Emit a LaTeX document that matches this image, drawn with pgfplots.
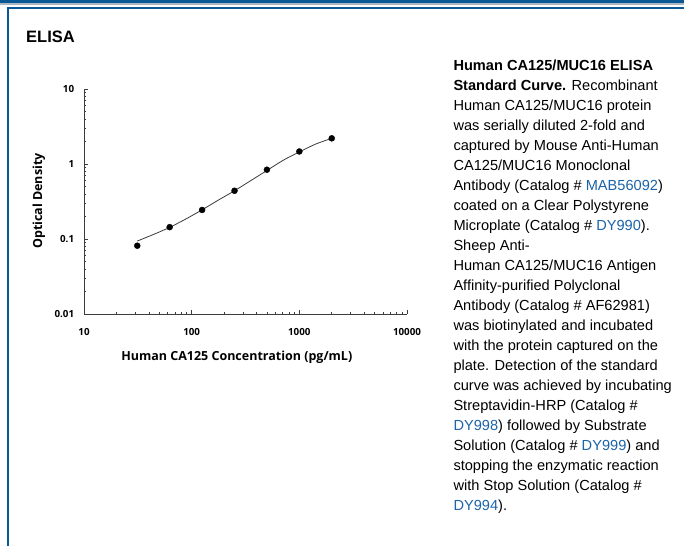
\documentclass[border=0pt]{standalone}
\usepackage{pgfplots}
\pgfplotsset{compat=1.18}
\usepackage{fontspec}
\setmainfont{Liberation Sans}
\newfontfamily\opensans{Open Sans}
\definecolor{bandblue}{RGB}{8,88,150}
\definecolor{bandgray}{RGB}{170,182,194}
\definecolor{linkblue}{RGB}{28,100,170}
\definecolor{axisgray}{RGB}{60,60,60}
\begin{document}
\begin{tikzpicture}[x=1pt,y=1pt]
\useasboundingbox (0,0) rectangle (684,-546);
\fill[white] (0,0) rectangle (684,-546);
% top band and frame
\fill[bandblue] (0,0) rectangle (684,-3);
\fill[bandgray] (0,-3) rectangle (684,-5);
\fill[bandblue] (6.7,-6.7) rectangle (684,-8.7);
\fill[bandblue] (6.7,-6.7) rectangle (8.7,-546);
% ELISA heading
\node[anchor=base west,inner sep=0pt,font=\fontsize{16.5}{19}\selectfont\bfseries] at (26,-42.7) {ELISA};
\begin{axis}[
  at={(84pt,-314pt)}, anchor=south west,
  scale only axis, width=323pt, height=225pt,
  xmode=log, ymode=log,
  xmin=10, xmax=10000, ymin=0.01, ymax=10,
  axis lines=left, axis line style={axisgray, line width=0.9pt, -},
  xtick={10,100,1000,10000}, xticklabels={10,100,1000,10000},
  ytick={0.01,0.1,1,10}, yticklabels={0.01,0.1,1,10},
  minor x tick num=8, minor y tick num=8,
  tick align=inside,
  major tick length=4pt, minor tick length=2.5pt,
  tick style={axisgray, line width=0.6pt},
  /pgf/number format/assume math mode=true,
  ticklabel style={font=\opensans\bfseries\fontsize{9.8}{12}\selectfont, inner sep=0pt},
  yticklabel style={anchor=east, xshift=-9.7pt},
  xticklabel style={anchor=north, yshift=-14pt},
  xlabel={Human CA125 Concentration (pg/mL)},
  ylabel={Optical Density},
  label style={font=\opensans\bfseries\fontsize{12.5}{14}\selectfont},
  xlabel style={at={(axis description cs:0.473,0)}, anchor=base, yshift=-46pt, inner sep=0pt},
  ylabel style={at={(axis description cs:0,0.502)}, anchor=base, yshift=42pt, inner sep=0pt},
  clip=false,
]
\addplot[smooth, axisgray, line width=0.8pt] coordinates {
  (31.25,0.094) (44.2,0.115) (62.5,0.143) (88.4,0.185) (125,0.245)
  (176.8,0.33) (250,0.44) (353.6,0.6) (500,0.82) (707.1,1.12)
  (1000,1.45) (1414,1.84) (2000,2.2)
};
\addplot[only marks, mark=*, mark size=3pt, black] coordinates {
  (31.25,0.0814) (62.5,0.144) (125,0.244) (250,0.44) (500,0.84) (1000,1.47) (2000,2.2)
};
\end{axis}
% description text
\begin{scope}[every node/.style={anchor=base west, inner sep=0pt, font=\fontsize{14.6}{20}\selectfont}]
\node at (453.3,-70.7) {\bfseries Human CA125/MUC16 ELISA};
\node at (453.3,-90.7) {{\bfseries Standard Curve.} Recombinant};
\node at (453.3,-110.7) {Human CA125/MUC16 protein};
\node at (453.3,-130.7) {was serially diluted 2-fold and};
\node at (453.3,-150.7) {captured by Mouse Anti-Human};
\node at (453.3,-170.7) {CA125/MUC16 Monoclonal};
\node at (453.3,-190.7) {Antibody (Catalog \# {\color{linkblue}MAB56092})};
\node at (453.3,-210.7) {coated on a Clear Polystyrene};
\node at (453.3,-230.7) {Microplate (Catalog \# {\color{linkblue}DY990}).};
\node at (453.3,-250.7) {Sheep Anti-};
\node at (453.3,-270.7) {Human CA125/MUC16 Antigen};
\node at (453.3,-290.7) {Affinity-purified Polyclonal};
\node at (453.3,-310.7) {Antibody (Catalog \# AF62981)};
\node at (453.3,-330.7) {was biotinylated and incubated};
\node at (453.3,-350.7) {with the protein captured on the};
\node at (453.3,-370.7) {plate. Detection of the standard};
\node at (453.3,-390.7) {curve was achieved by incubating};
\node at (453.3,-410.7) {Streptavidin-HRP (Catalog \#};
\node at (453.3,-430.7) {{\color{linkblue}DY998}) followed by Substrate};
\node at (453.3,-450.7) {Solution (Catalog \# {\color{linkblue}DY999}) and};
\node at (453.3,-470.7) {stopping the enzymatic reaction};
\node at (453.3,-490.7) {with Stop Solution (Catalog \#};
\node at (453.3,-510.7) {{\color{linkblue}DY994}).};
\end{scope}
\end{tikzpicture}
\end{document}
